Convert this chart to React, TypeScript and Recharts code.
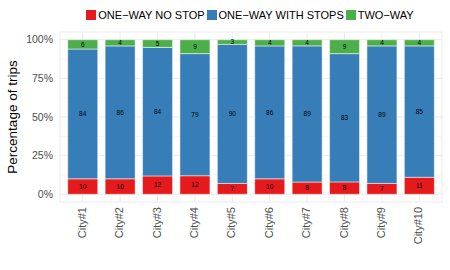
import React from 'react';
import { BarChart, Bar, XAxis, YAxis, CartesianGrid, LabelList } from 'recharts';

const cities = ['City#1', 'City#2', 'City#3', 'City#4', 'City#5', 'City#6', 'City#7', 'City#8', 'City#9', 'City#10'];
const noStop = [10, 10, 12, 12, 7, 10, 8, 8, 7, 11];
const withStops = [84, 86, 84, 79, 90, 86, 89, 83, 89, 85];
const twoWay = [6, 4, 5, 9, 3, 4, 4, 9, 4, 4];

const yTicks = [0, 0.25, 0.5, 0.75, 1];
const yMinor = [0.125, 0.375, 0.625, 0.875];

const series = [
  { key: 'noStop', name: 'ONE\u2212WAY NO STOP', color: '#E41A1C' },
  { key: 'withStops', name: 'ONE\u2212WAY WITH STOPS', color: '#377EB8' },
  { key: 'twoWay', name: 'TWO\u2212WAY', color: '#4DAF4A' },
];

// position = "fill": each bar is scaled to its own total
const data = cities.map((city, i) => {
  const total = noStop[i] + withStops[i] + twoWay[i];
  return {
    city,
    noStop: noStop[i],
    withStops: withStops[i],
    twoWay: twoWay[i],
    noStopShare: noStop[i] / total,
    withStopsShare: withStops[i] / total,
    twoWayShare: twoWay[i] / total,
  };
});

const FONT = '"Liberation Sans", Arial, Helvetica, sans-serif';

const CityTick = (props: any) => {
  const { x, y, payload } = props;
  return (
    <text
      x={x + 3}
      y={y}
      transform={`rotate(-90 ${x + 3} ${y})`}
      textAnchor="end"
      fontSize={11}
      fill="#4D4D4D"
      fontFamily={FONT}
    >
      {payload.value}
    </text>
  );
};

const YTitle = (props: any) => {
  const vb = props.viewBox || { y: 32, height: 170 };
  const cy = vb.y + vb.height / 2;
  return (
    <text
      x={16.5}
      y={cy}
      transform={`rotate(-90 16.5 ${cy})`}
      textAnchor="middle"
      fontSize={13.5}
      fill="#000"
      fontFamily={FONT}
    >
      Percentage of trips
    </text>
  );
};

export default function App() {
  return (
    <div style={{ position: 'absolute', top: 0, left: 0, width: 450, height: 270, background: '#fff', fontFamily: FONT }}>
      <div
        style={{
          position: 'absolute',
          top: 9,
          left: 60,
          width: 382,
          display: 'flex',
          justifyContent: 'center',
          alignItems: 'center',
          fontSize: 11,
          color: '#000',
          whiteSpace: 'nowrap',
        }}
      >
        {series.map((s) => (
          <div key={s.key} style={{ display: 'flex', alignItems: 'center', marginRight: 2 }}>
            <span style={{ width: 10, height: 10, background: s.color, display: 'inline-block', marginRight: 2 }} />
            <span>{s.name}</span>
          </div>
        ))}
      </div>
      <BarChart
        width={450}
        height={270}
        data={data}
        barCategoryGap="10%"
        margin={{ top: 32, right: 8, left: 0, bottom: 0 }}
      >
        <CartesianGrid horizontalValues={yMinor} vertical={false} stroke="#F2F2F2" strokeWidth={0.6} />
        <CartesianGrid stroke="#EBEBEB" strokeWidth={1} />
        <XAxis
          dataKey="city"
          height={68}
          axisLine={false}
          tickLine={false}
          tickSize={0}
          tickMargin={5}
          interval={0}
          padding={{ left: 4, right: 4 }}
          tick={<CityTick />}
        />
        <YAxis
          type="number"
          width={60}
          domain={[-0.05, 1.05]}
          ticks={yTicks}
          allowDataOverflow
          axisLine={false}
          tickLine={false}
          tickSize={0}
          tickMargin={7}
          tickFormatter={(v: number) => `${Math.round(v * 100)}%`}
          tick={{ fontSize: 10.5, fill: '#4D4D4D', fontFamily: FONT }}
          label={{ content: <YTitle /> }}
        />
        {series.map((s) => (
          <Bar
            key={s.key}
            dataKey={`${s.key}Share`}
            name={s.name}
            stackId="a"
            fill={s.color}
            stroke="#ffffff"
            strokeWidth={0.5}
            isAnimationActive={false}
          >
            <LabelList dataKey={s.key} position="center" fontSize={6.5} fill="#000" fontFamily={FONT} />
          </Bar>
        ))}
      </BarChart>
    </div>
  );
}
